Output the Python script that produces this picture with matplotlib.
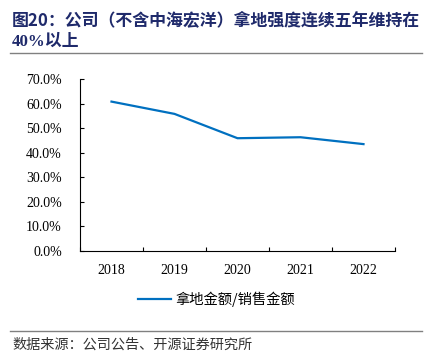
import matplotlib
matplotlib.use("Agg")
import matplotlib.pyplot as plt
from matplotlib.ticker import FixedLocator, PercentFormatter

plt.rcParams['font.family'] = ['Liberation Serif', 'Noto Sans CJK SC', 'DejaVu Sans']

# data
years = ['2018', '2019', '2020', '2021', '2022']
land_ratio = [60.8, 55.8, 45.9, 46.3, 43.5]
series_name = '拿地金额/销售金额'

title_line1 = '图20：公司（不含中海宏洋）拿地强度连续五年维持在'
title_line2 = '40%以上'
source_text = '数据来源：公司公告、开源证券研究所'

navy = '#1F2A6B'
blue = '#0070C0'
cjk = ['Noto Sans CJK SC', 'DejaVu Sans']

fig = plt.figure(figsize=(4.29, 3.63), dpi=100)
ax = fig.add_axes([80 / 429, 1 - 251 / 363, 315 / 429, 172 / 363])

x = list(range(len(years)))
line, = ax.plot(x, land_ratio, color=blue, lw=1.6, solid_joinstyle='round')

ax.set_xlim(-0.5, len(years) - 0.5)
ax.set_ylim(0, 70)
ax.set_yticks(range(0, 71, 10))
ax.yaxis.set_major_formatter(PercentFormatter(decimals=1))

# boundary ticks on x, labels in the middle of each category
ax.xaxis.set_major_locator(FixedLocator([i - 0.5 for i in range(len(years) + 1)]))
ax.xaxis.set_minor_locator(FixedLocator(x))
ax.set_xticklabels([])
ax.set_xticklabels(years, minor=True)
ax.tick_params(axis='x', which='major', direction='in', length=3, width=0.8)
ax.tick_params(axis='x', which='minor', length=0, pad=9, labelsize=10)
ax.tick_params(axis='y', direction='in', length=3, width=0.8, pad=13, labelsize=10)

for s in ['top', 'right']:
    ax.spines[s].set_visible(False)
for s in ['left', 'bottom']:
    ax.spines[s].set_linewidth(0.8)

leg = fig.legend([line], [series_name], loc='center', bbox_to_anchor=(0.505, 1 - 299 / 363),
                 frameon=False, handlelength=2.3, handletextpad=0.3,
                 prop={'family': cjk, 'size': 10.3})

fig.text(12 / 429, 1 - 20 / 363, title_line1, fontsize=12.2, fontweight='bold',
         color=navy, family=cjk, va='center', ha='left')
fig.text(12 / 429, 1 - 42 / 363, title_line2, fontsize=12.2, fontweight='bold',
         color=navy, family=['Liberation Serif', 'Noto Sans CJK SC'], va='center', ha='left')
fig.add_artist(plt.Line2D([10 / 429, 422 / 429], [1 - 53 / 363] * 2, color='#808080', lw=1))
fig.add_artist(plt.Line2D([10 / 429, 422 / 429], [1 - 331 / 363] * 2, color='#808080', lw=1))
fig.text(12 / 429, 1 - 345 / 363, source_text, fontsize=10.2, color='#333333',
         family=cjk, va='center', ha='left')

fig.savefig('out.png', dpi=100)
